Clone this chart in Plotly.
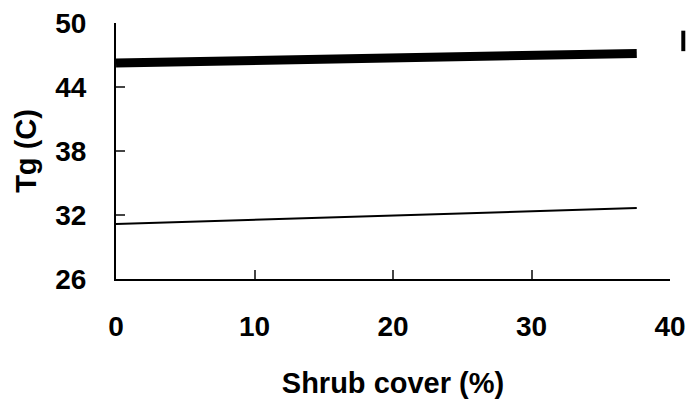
import plotly.graph_objects as go

shrub_cover = [0, 37.6]
tg_thick = [46.25, 47.15]
tg_thin = [31.15, 32.65]
x_ticks = [0, 10, 20, 30, 40]
y_ticks = [26, 32, 38, 44, 50]

fig = go.Figure()
fig.add_trace(go.Scatter(x=shrub_cover, y=tg_thick, mode="lines",
                         line=dict(color="black", width=9), showlegend=False))
fig.add_trace(go.Scatter(x=shrub_cover, y=tg_thin, mode="lines",
                         line=dict(color="black", width=2), showlegend=False))

tf = dict(family="Arial", size=28, color="black", weight="bold")
fig.update_layout(
    width=691, height=405,
    margin=dict(l=116, r=21, t=23, b=126),
    plot_bgcolor="white", paper_bgcolor="white",
    font=dict(family="Arial", size=28, color="black"),
    xaxis=dict(range=[0, 40], tickvals=x_ticks, ticks="inside", ticklen=9, tickwidth=2,
               showline=True, linecolor="black", linewidth=2, showgrid=False, zeroline=False,
               tickfont=tf, ticklabelstandoff=21, automargin=False,
               title=dict(text="<b>Shrub cover (%)</b>", font=dict(size=29), standoff=32)),
    yaxis=dict(range=[26, 50], tickvals=y_ticks, ticks="inside", ticklen=9, tickwidth=2,
               showline=True, linecolor="black", linewidth=2, showgrid=False, zeroline=False,
               tickfont=tf, ticklabelstandoff=22, automargin=False,
               title=dict(text="<b>Tg (C)</b>", font=dict(size=29), standoff=10)),
)
fig.add_shape(type="line", xref="paper", yref="paper", x0=1.024, x1=1.024, y0=0.89, y1=0.97,
              line=dict(color="black", width=4))
fig.write_html("out.html")
